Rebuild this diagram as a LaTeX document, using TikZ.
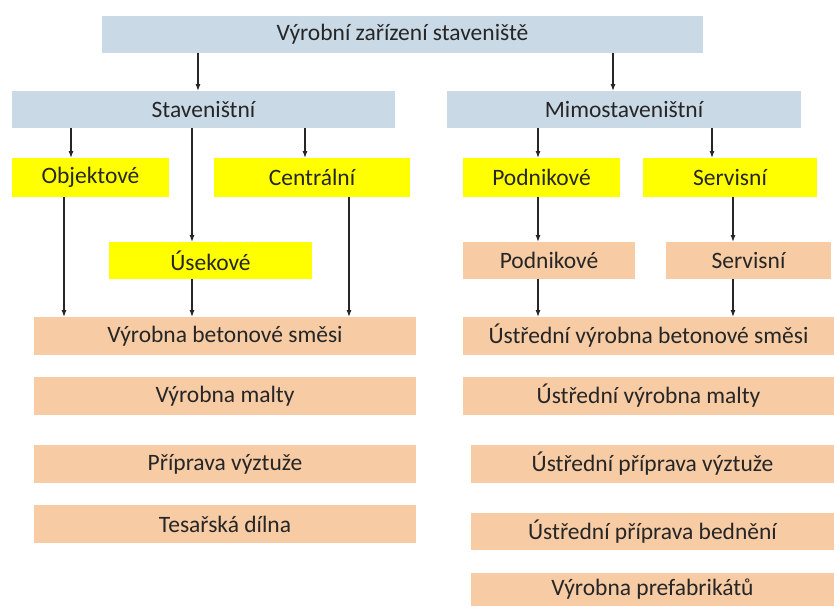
\documentclass[tikz,border=0pt]{standalone}
\usepackage{fontspec}
\setmainfont{Carlito}
\usetikzlibrary{arrows.meta}
\definecolor{stageblue}{HTML}{C9D9E6}
\definecolor{kindyellow}{HTML}{FFFF00}
\definecolor{plantbeige}{HTML}{F7CBA4}
\definecolor{inkgrey}{HTML}{262626}

\begin{document}
\begin{tikzpicture}[x=1pt, y=-1pt,
  box/.style={anchor=north west, inner sep=2pt, outer sep=0pt, text=inkgrey,
    font=\fontsize{23.5}{28}\selectfont},
  stage/.style={box, fill=stageblue},
  kind/.style={box, fill=kindyellow},
  plant/.style={box, fill=plantbeige},
  arr/.style={draw=inkgrey, line width=1.1pt, -{Latex[length=7pt,width=5pt]}}]
%\draw [help lines, step=50] (0,0) grid (834,606);
\useasboundingbox (0,0) rectangle (834,606);

% levels
\node[stage, minimum width=601, minimum height=37] (vz)   at (102,16)  {Výrobní zařízení staveniště};
\node[stage, minimum width=383, minimum height=37] (stav) at (12,91)   {Staveništní};
\node[stage, minimum width=354, minimum height=37] (mimo) at (447,91)  {Mimostaveništní};

\node[kind, minimum width=157, minimum height=39]  (obj)  at (12,158)  {Objektové};
\node[kind, minimum width=196, minimum height=39]  (cent) at (214,158) {Centrální};
\node[kind, minimum width=203, minimum height=37]  (usek) at (109,242) {Úsekové};
\node[kind, minimum width=157, minimum height=39]  (podn) at (463,158) {Podnikové};
\node[kind, minimum width=174, minimum height=39]  (serv) at (643,158) {Servisní};

\node[plant, minimum width=172, minimum height=37] (podn2) at (463,242) {Podnikové};
\node[plant, minimum width=165, minimum height=37] (serv2) at (666,242) {Servisní};

% left column
\node[plant, minimum width=382, minimum height=38] (b1) at (34,317) {Výrobna betonové směsi};
\node[plant, minimum width=382, minimum height=38] (b2) at (34,377) {Výrobna malty};
\node[plant, minimum width=382, minimum height=38] (b3) at (34,445) {Příprava výztuže};
\node[plant, minimum width=382, minimum height=38] (b4) at (34,505) {Tesařská dílna};

% right column
\node[plant, minimum width=371, minimum height=38] (u1) at (463,317) {Ústřední výrobna betonové směsi};
\node[plant, minimum width=371, minimum height=38] (u2) at (463,377) {Ústřední výrobna malty};
\node[plant, minimum width=363, minimum height=38] (u3) at (471,445) {Ústřední příprava výztuže};
\node[plant, minimum width=363, minimum height=37] (u4) at (471,513) {Ústřední příprava bednění};
\node[plant, minimum width=363, minimum height=33] (u5) at (471,573) {Výrobna prefabrikátů};

% Edges
\foreach \a/\b/\x in {vz/stav/198, vz/mimo/613,
    stav/obj/71, stav/usek/192, stav/cent/305,
    mimo/podn/538, mimo/serv/712,
    obj/b1/64, usek/b1/192, cent/b1/349,
    podn/podn2/538, serv/serv2/733, podn2/u1/538, serv2/u1/733}
  \draw[arr] (\a.south -| \x,0) -- (\b.north -| \x,0);
\end{tikzpicture}
\end{document}
